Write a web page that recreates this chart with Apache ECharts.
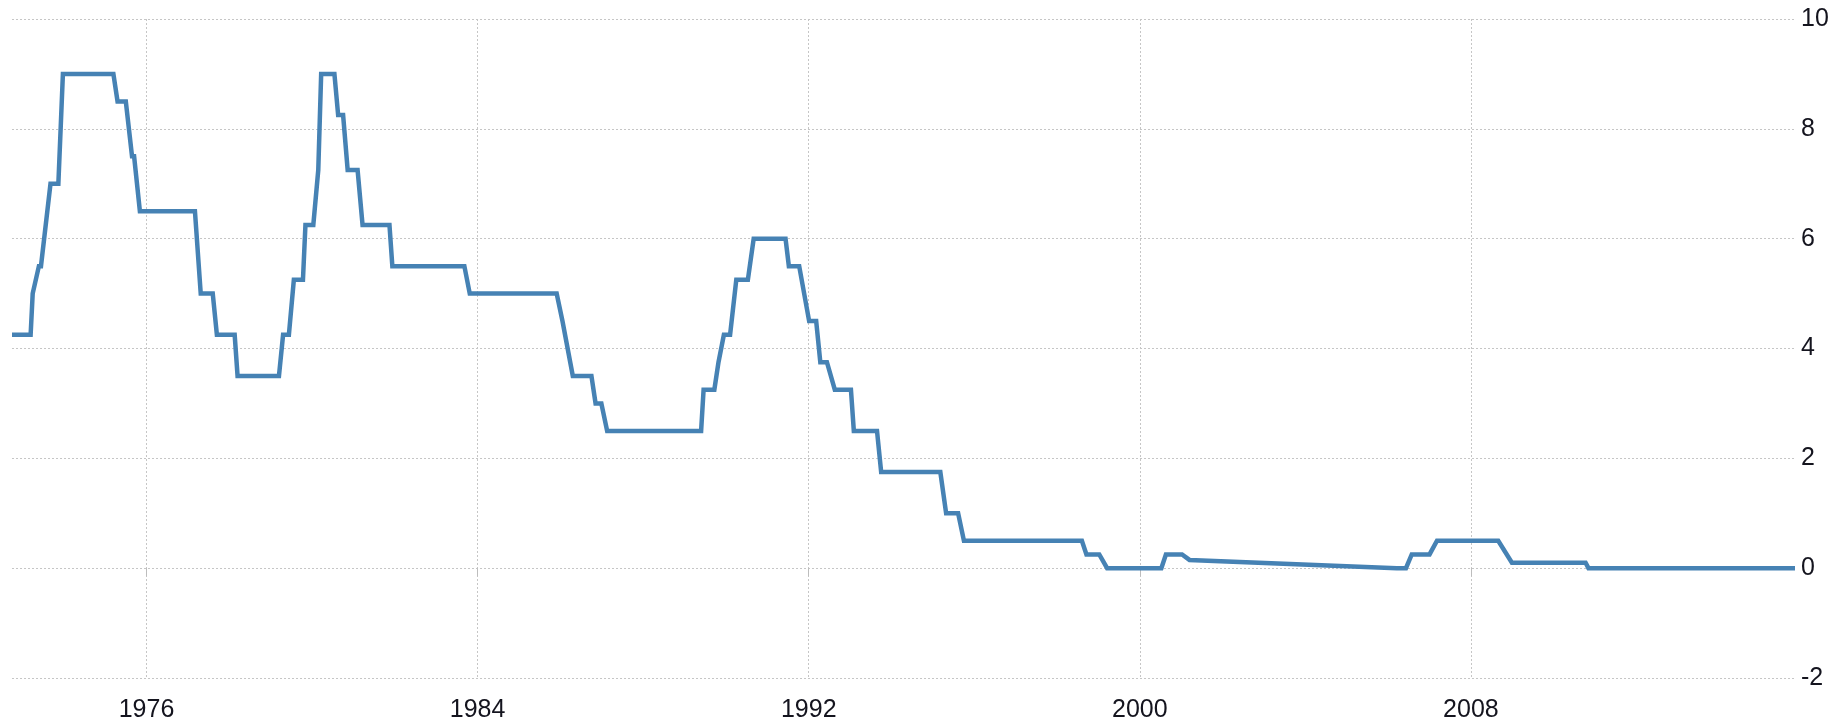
<!DOCTYPE html>
<html>
<head>
<meta charset="utf-8">
<script src="https://cdn.jsdelivr.net/npm/echarts@6/dist/echarts.min.js"></script>
<style>
html,body{margin:0;padding:0;background:#fff;}
#chart{width:1844px;height:726px;}
</style>
</head>
<body>
<div id="chart"></div>
<script>
// Decimal years of each point along the rate line
const years = [
  1972.75, 1973.20, 1973.25, 1973.40, 1973.45, 1973.68, 1973.87, 1973.98, 1975.20, 1975.30,
  1975.50, 1975.65, 1975.70, 1975.84, 1977.17, 1977.31, 1977.60, 1977.70, 1978.13, 1978.20,
  1979.20, 1979.30, 1979.44, 1979.56, 1979.78, 1979.84, 1980.03, 1980.15, 1980.22, 1980.54,
  1980.63, 1980.75, 1980.86, 1981.10, 1981.22, 1981.87, 1981.94, 1983.68, 1983.81, 1985.91,
  1986.05, 1986.30, 1986.75, 1986.85, 1986.99, 1987.13, 1989.40, 1989.46, 1989.72, 1989.82,
  1989.95, 1990.10, 1990.25, 1990.53, 1990.67, 1991.44, 1991.52, 1991.77, 1992.01, 1992.18,
  1992.28, 1992.44, 1992.63, 1993.02, 1993.09, 1993.65, 1993.75, 1995.18, 1995.32, 1995.61,
  1995.75, 1998.60, 1998.71, 1999.02, 1999.21, 2000.52, 2000.63, 2001.02, 2001.20, 2006.21,
  2006.43, 2006.57, 2007.00, 2007.18, 2008.66, 2008.99, 2010.77, 2010.84, 2015.83
];
// Interest rate values (%) at those points
const rates = [
  4.25, 4.25, 5.0, 5.5, 5.5, 7.0, 7.0, 9.0, 9.0, 8.5,
  8.5, 7.5, 7.5, 6.5, 6.5, 5.0, 5.0, 4.25, 4.25, 3.5,
  3.5, 4.25, 4.25, 5.25, 5.25, 6.25, 6.25, 7.25, 9.0, 9.0,
  8.25, 8.25, 7.25, 7.25, 6.25, 6.25, 5.5, 5.5, 5.0, 5.0,
  4.5, 3.5, 3.5, 3.0, 3.0, 2.5, 2.5, 3.25, 3.25, 3.75,
  4.25, 4.25, 5.25, 5.25, 6.0, 6.0, 5.5, 5.5, 4.5, 4.5,
  3.75, 3.75, 3.25, 3.25, 2.5, 2.5, 1.75, 1.75, 1.0, 1.0,
  0.5, 0.5, 0.25, 0.25, 0.0, 0.0, 0.25, 0.25, 0.15, 0.0,
  0.0, 0.25, 0.25, 0.5, 0.5, 0.1, 0.1, 0.0, 0.0
];
// Axis tick labels
const xTickYears = [1976, 1984, 1992, 2000, 2008];
const yTicks = [-2, 0, 2, 4, 6, 8, 10];

const seriesData = years.map((y, i) => [y, rates[i]]);

const chart = echarts.init(document.getElementById('chart'), null, {renderer: 'canvas'});
const gridLine = {show: true, lineStyle: {color: '#c6c6c6', width: 1, type: [2, 2]}};
chart.setOption({
  animation: false,
  backgroundColor: '#ffffff',
  grid: {left: 12, right: 49, top: 19, bottom: 48, containLabel: false},
  xAxis: {
    type: 'value',
    min: years[0],
    max: years[years.length - 1],
    axisLine: {show: false},
    axisTick: {show: true, length: 8, customValues: xTickYears, lineStyle: {color: '#bdbdbd', width: 1}},
    axisLabel: {
      customValues: xTickYears,
      margin: 20,
      color: '#14141e',
      fontSize: 25,
      fontFamily: 'Liberation Sans, Arial, sans-serif',
      formatter: v => String(Math.round(v))
    },
    splitLine: gridLine
  },
  yAxis: {
    type: 'value',
    position: 'right',
    min: yTicks[0],
    max: yTicks[yTicks.length - 1],
    interval: 2,
    axisLine: {show: false},
    axisTick: {show: false},
    axisLabel: {
      margin: 6,
      color: '#14141e',
      fontSize: 25,
      fontFamily: 'Liberation Sans, Arial, sans-serif'
    },
    splitLine: gridLine
  },
  series: [{
    type: 'line',
    data: seriesData,
    showSymbol: false,
    symbol: 'none',
    lineStyle: {color: '#4682b4', width: 4.5, join: 'miter'},
    itemStyle: {color: '#4682b4'}
  }]
});
</script>
</body>
</html>
